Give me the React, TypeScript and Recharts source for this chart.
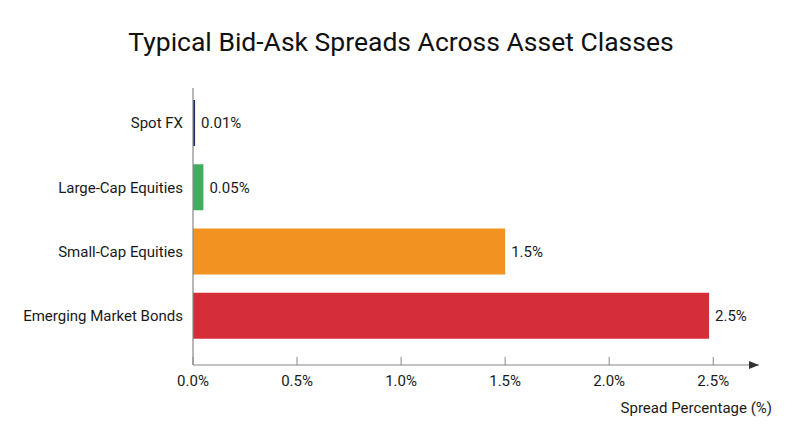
import React from 'react';
import { BarChart, Bar, XAxis, YAxis, Cell, LabelList } from 'recharts';

const categories = ['Spot FX', 'Large-Cap Equities', 'Small-Cap Equities', 'Emerging Market Bonds'];
const spreads = [0.01, 0.05, 1.5, 2.48];
const valueLabels = ['0.01%', '0.05%', '1.5%', '2.5%'];
const barColors = ['#1b2d63', '#3fae5e', '#f29221', '#d62e38'];
const xTicks = [0, 0.5, 1, 1.5, 2, 2.5];
const xTickLabels = ['0.0%', '0.5%', '1.0%', '1.5%', '2.0%', '2.5%'];
const title = 'Typical Bid-Ask Spreads Across Asset Classes';
const xAxisTitle = 'Spread Percentage (%)';

const data = categories.map((c, i) => ({ category: c, spread: spreads[i], label: valueLabels[i] }));

const FONT = 'Roboto, "Noto Sans", sans-serif';

const XTitle = (props: any) => {
  const vb = props.viewBox || {};
  return (
    <text
      x={vb.x + vb.width + 13}
      y={vb.y + 48}
      textAnchor="end"
      fontSize={15}
      fontFamily={FONT}
      fill="#1a1a1a"
    >
      {xAxisTitle}
    </text>
  );
};

export default function App() {
  return (
    <div style={{ position: 'absolute', left: 0, top: 0, width: 800, height: 447, background: '#fff' }}>
      <svg width={800} height={447} style={{ position: 'absolute', left: 0, top: 0, pointerEvents: 'none' }}>
        <defs>
          <marker
            id="xArrow"
            markerUnits="userSpaceOnUse"
            markerWidth={10}
            markerHeight={8}
            viewBox="0 0 10 8"
            refX={10}
            refY={4}
            orient="auto"
          >
            <path d="M0,0 L10,4 L0,8 z" fill="#333" />
          </marker>
        </defs>
        <text x={401} y={51} textAnchor="middle" fontSize={26.5} fontFamily={FONT} fill="#111">
          {title}
        </text>
      </svg>
      <div style={{ position: 'absolute', left: 0, top: 0 }}>
        <BarChart
          width={800}
          height={447}
          data={data}
          layout="vertical"
          margin={{ top: 88, right: 41, bottom: 0, left: 0 }}
        >
          <XAxis
            type="number"
            dataKey="spread"
            domain={[0, 2.72]}
            ticks={xTicks}
            allowDataOverflow
            tickFormatter={(v: number) => xTickLabels[xTicks.indexOf(v)] ?? String(v)}
            height={82}
            tickSize={-8}
            tickMargin={18}
            axisLine={{ stroke: '#888', strokeWidth: 1.2, markerEnd: 'url(#xArrow)' }}
            tickLine={{ stroke: '#888' }}
            tick={{ fontSize: 15, fill: '#1a1a1a', fontFamily: FONT }}
            label={<XTitle />}
          />
          <YAxis
            type="category"
            dataKey="category"
            width={193}
            padding={{ top: 3, bottom: 17 }}
            tickLine={false}
            tickSize={0}
            tickMargin={10}
            axisLine={{ stroke: '#888', strokeWidth: 1.2 }}
            tick={{ fontSize: 15, fill: '#1a1a1a', fontFamily: FONT }}
          />
          <Bar dataKey="spread" barSize={46} isAnimationActive={false}>
            {data.map((d, i) => (
              <Cell key={d.category} fill={barColors[i]} />
            ))}
            <LabelList
              dataKey="label"
              position="right"
              offset={6}
              style={{ fontSize: 15, fill: '#1a1a1a', fontFamily: FONT }}
            />
          </Bar>
        </BarChart>
      </div>
    </div>
  );
}
